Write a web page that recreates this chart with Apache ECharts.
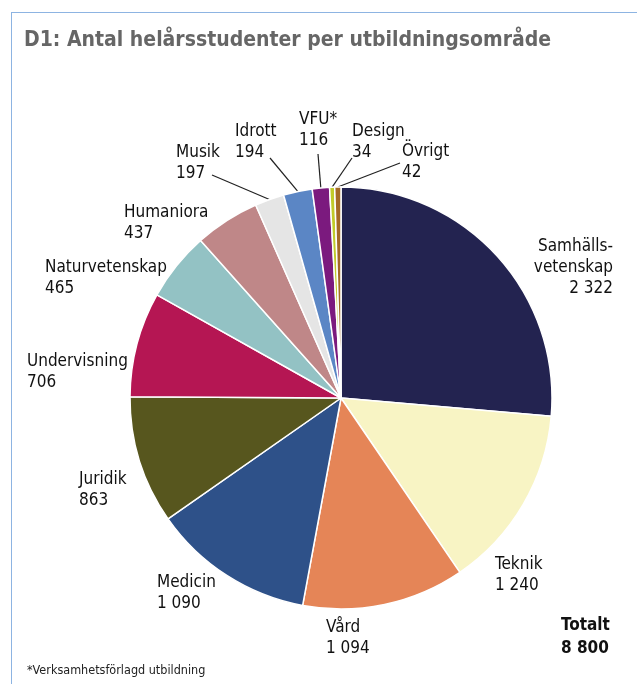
<!DOCTYPE html>
<html>
<head>
<meta charset="utf-8">
<script src="https://cdn.jsdelivr.net/npm/echarts@6/dist/echarts.min.js"></script>
<style>
html, body { margin: 0; padding: 0; background: #fff; }
#chart { width: 637px; height: 684px; }
</style>
</head>
<body>
<div id="chart"></div>
<script>
// data
var names = ['Samhälls-\nvetenskap', 'Teknik', 'Vård', 'Medicin', 'Juridik', 'Undervisning',
	'Naturvetenskap', 'Humaniora', 'Musik', 'Idrott', 'VFU*', 'Design', 'Övrigt'];
var values = [2322, 1240, 1094, 1090, 863, 706, 465, 437, 197, 194, 116, 34, 42];
var colors = ['#232350', '#f8f4c4', '#e58557', '#2e5189', '#57561e', '#b51653',
	'#93c2c4', '#bf8788', '#e5e5e5', '#5b86c5', '#7b1a7e', '#c1cb2a', '#a46a25'];
var total = 8800;

// label placement (top-left of text, or top-right when align is right)
var labelPos = [
	[613, 236, 'right'], [495, 554, 'left'], [326, 617, 'left'], [157, 572, 'left'],
	[79, 469, 'left'], [27, 351, 'left'], [45, 257, 'left'], [124, 202, 'left'],
	[176, 142, 'left'], [235, 121, 'left'], [299, 109, 'left'], [352, 121, 'left'],
	[402, 141, 'left']
];
// end of leader line for the small slices
var lineEnd = { 8: [212, 175], 9: [270, 158], 10: [318, 154], 11: [352, 158], 12: [400, 163] };

function fmt(v) {
	return String(v).replace(/\B(?=(\d{3})+(?!\d))/g, ' ');
}

var font = '"DejaVu Sans Condensed", "Liberation Sans Narrow", sans-serif';

var pieData = [];
for (var i = 0; i < names.length; i++) {
	pieData.push({
		name: names[i],
		value: values[i],
		itemStyle: { color: colors[i] },
		labelLine: { show: lineEnd[i] != null }
	});
}

var myChart = echarts.init(document.getElementById('chart'));
var option = {
	animation: false,
	graphic: [
		{ type: 'line', shape: { x1: 11, y1: 12.5, x2: 637, y2: 12.5 }, style: { stroke: '#8db4e2', lineWidth: 1 } },
		{ type: 'line', shape: { x1: 11.5, y1: 12, x2: 11.5, y2: 684 }, style: { stroke: '#8db4e2', lineWidth: 1 } },
		{ type: 'text', left: 24, top: 30, style: { text: 'D1: Antal helårsstudenter per utbildningsområde', font: 'bold 21px ' + font, fill: '#666666' } },
		{ type: 'text', left: 561, top: 614, style: { text: 'Totalt\n' + fmt(total), font: 'bold 17px ' + font, fill: '#111', lineHeight: 23 } },
		{ type: 'text', left: 27, top: 664, style: { text: '*Verksamhetsförlagd utbildning', font: '12.5px ' + font, fill: '#222' } }
	],
	series: [{
		type: 'pie',
		center: [341, 398],
		radius: [0, 211],
		startAngle: 90,
		clockwise: true,
		data: pieData,
		itemStyle: { borderColor: '#fff', borderWidth: 1.5 },
		label: {
			show: true,
			position: 'outside',
			overflow: 'none',
			formatter: function (p) { return p.name + '\n' + fmt(p.value); },
			fontFamily: font,
			fontSize: 17,
			lineHeight: 21,
			color: '#111'
		},
		labelLine: { lineStyle: { color: '#222', width: 1.2 }, length: 5, length2: 5 },
		labelLayout: function (params) {
			var i = params.dataIndex;
			var lp = labelPos[i];
			var res = { x: lp[0], y: lp[1], align: lp[2], verticalAlign: 'top' };
			if (lineEnd[i]) {
				var a = params.labelLinePoints[0];
				res.labelLinePoints = [a, a, lineEnd[i]];
			}
			return res;
		}
	}]
};
myChart.setOption(option);
</script>
</body>
</html>
